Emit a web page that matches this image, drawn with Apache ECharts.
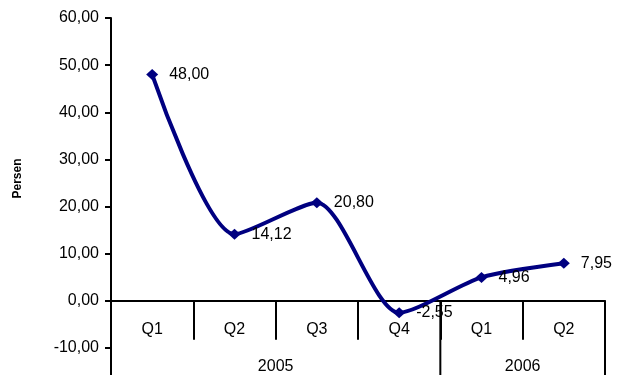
<!DOCTYPE html>
<html>
<head>
<meta charset="utf-8">
<script src="https://cdn.jsdelivr.net/npm/echarts@6/dist/echarts.min.js"></script>
<style>
  html, body { margin: 0; padding: 0; background: #fff; }
  #chart { width: 617px; height: 375px; }
</style>
</head>
<body>
<div id="chart"></div>
<script>
// Quarterly growth, percent
const categories = ['Q1', 'Q2', 'Q3', 'Q4', 'Q1', 'Q2'];
const values = [48.00, 14.12, 20.80, -2.55, 4.96, 7.95];
const years = ['2005', '2006'];
const quartersPerYear = [4, 2];
const yTicks = { min: -20, max: 60, interval: 10 };

const FONT = '"Liberation Sans", Arial, sans-serif';
const fmt = v => v.toFixed(2).replace('.', ',');

// plot box; the lower part of the value range runs past the bottom edge
const GRID = { left: 111, right: 12, top: 18, bottom: -20 };
const plotHeight = 375 - GRID.top - GRID.bottom;
// distance from the plot's bottom edge up to the zero line
const zeroLift = plotHeight * (0 - yTicks.min) / (yTicks.max - yTicks.min);

// group rows: [first category index, number of categories, year label index]
const yearGroups = [];
let start = 0;
years.forEach((y, i) => {
  yearGroups.push([start, quartersPerYear[i], i]);
  start += quartersPerYear[i];
});

const chart = echarts.init(document.getElementById('chart'));
chart.setOption({
  backgroundColor: '#ffffff',
  animation: false,
  grid: Object.assign({ containLabel: false, outerBoundsMode: 'none' }, GRID),
  xAxis: {
    type: 'category',
    data: categories,
    boundaryGap: true,
    position: 'bottom',
    offset: -zeroLift,
    axisLine: { onZero: false, lineStyle: { color: '#000', width: 2 } },
    axisTick: { show: true, length: 39, lineStyle: { color: '#000', width: 2 } },
    axisLabel: { color: '#000', fontFamily: FONT, fontSize: 16, margin: 21 },
    splitLine: { show: false }
  },
  yAxis: {
    type: 'value',
    min: yTicks.min,
    max: yTicks.max,
    interval: yTicks.interval,
    name: 'Persen',
    nameLocation: 'middle',
    nameRotate: 90,
    nameGap: 87,
    nameTextStyle: { color: '#000', fontFamily: FONT, fontSize: 12, fontWeight: 'bold', padding: [0, 0, 0, 56] },
    axisLine: { show: true, lineStyle: { color: '#000', width: 2 } },
    axisTick: { show: true, length: 6, lineStyle: { color: '#000', width: 2 } },
    axisLabel: {
      color: '#000', fontFamily: FONT, fontSize: 16, margin: 12,
      formatter: v => (v <= yTicks.min ? '' : fmt(v))
    },
    splitLine: { show: false }
  },
  series: [
    {
      type: 'line',
      data: values,
      smooth: 0.25,
      symbol: 'diamond',
      symbolSize: [12, 11],
      itemStyle: { color: '#000080' },
      lineStyle: { color: '#000080', width: 4 },
      label: {
        show: true,
        position: 'right',
        distance: 11,
        color: '#000',
        fontFamily: FONT,
        fontSize: 16,
        formatter: p => fmt(p.value)
      },
      z: 5
    },
    {
      // year row under the quarter labels
      type: 'custom',
      clip: false,
      silent: true,
      data: yearGroups,
      encode: { x: 0, y: 1 },
      renderItem: (params, api) => {
        const first = api.value(0);
        const count = api.value(1);
        const band = api.size([1, 0])[0];
        const p0 = api.coord([first, 0]);
        const left = p0[0] - band / 2;
        const right = left + band * count;
        const top = p0[1];
        const bottom = api.coord([first, yTicks.min])[1];
        return {
          type: 'group',
          children: [
            {
              type: 'line',
              shape: { x1: right, y1: top, x2: right, y2: bottom },
              style: { stroke: '#000', lineWidth: 2 }
            },
            {
              type: 'text',
              x: (left + right) / 2,
              y: top + 66,
              style: {
                text: years[api.value(2)],
                fill: '#000',
                font: '16px ' + FONT,
                align: 'center',
                verticalAlign: 'middle'
              }
            }
          ]
        };
      },
      z: 1
    }
  ]
});
</script>
</body>
</html>
